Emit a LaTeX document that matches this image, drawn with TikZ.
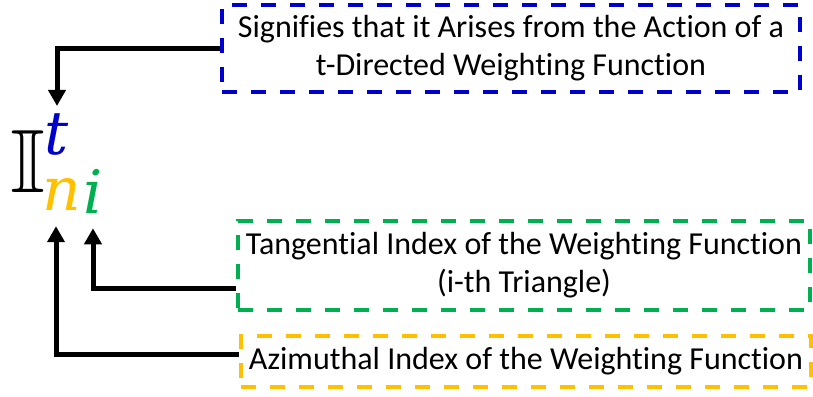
\documentclass[tikz,border=0pt]{standalone}
\usepackage{amssymb}
\usepackage{fontspec}
\setmainfont{Carlito}[Ligatures=NoCommon]
\newfontfamily\letterfont{DejaVu Serif}
\usetikzlibrary{arrows.meta,positioning,calc}
\definecolor{tblue}{RGB}{0,0,204}
\definecolor{ngold}{RGB}{255,192,0}
\definecolor{igreen}{RGB}{0,176,80}
\tikzset{
  note/.style  = {draw, line width=4pt, dash pattern=on 15pt off 14pt,
                  align=center, inner sep=0pt, font=\fontsize{32}{38}\selectfont},
  sym/.style   = {inner sep=0pt, font=\letterfont\itshape\fontsize{60}{60}\selectfont},
  arr/.style   = {-{Triangle[width=17pt,length=16pt]}, draw=black, line width=5pt},
}
\begin{document}
\begin{tikzpicture}[x=1pt,y=-1pt]
  \useasboundingbox (0,0) rectangle (813,396);
  \node[note, draw=tblue, minimum width=578pt, minimum height=87pt] (dir) at (511,48.5)
    {Signifies that it Arises from the Action of a\\t-Directed Weighting Function};
  \node[note, draw=igreen, minimum width=572pt, minimum height=89pt] (tang) at (524,265.5)
    {Tangent\kern0pt ial Index of the Weighting Function\\(i-th Triangle)};
  \node[note, draw=ngold, minimum width=570pt, minimum height=51pt] (azim) at (526,361.5)
    {Azimuthal Index of the Weighting Function};

  \node[inner sep=0pt, font=\fontsize{90}{90}\selectfont] (I) at (28,161) {$\mathbb{I}$};
  \node[sym, text=tblue] (t) at (57,135) {t};
  \node[sym, text=ngold] (n) at (62,195) {n};
  \node[sym, text=igreen] (i) at (93,191) {i};

  \draw[arr, shorten >=8pt] (dir.west) -| (t.north);
  \draw[arr, shorten >=15pt] ([yshift=-22.5pt]tang.west) -| (i.south);
  \draw[arr, shorten >=15pt] ([yshift=7.5pt]azim.west) -| ([xshift=-6pt]n.south);
\end{tikzpicture}
\end{document}
